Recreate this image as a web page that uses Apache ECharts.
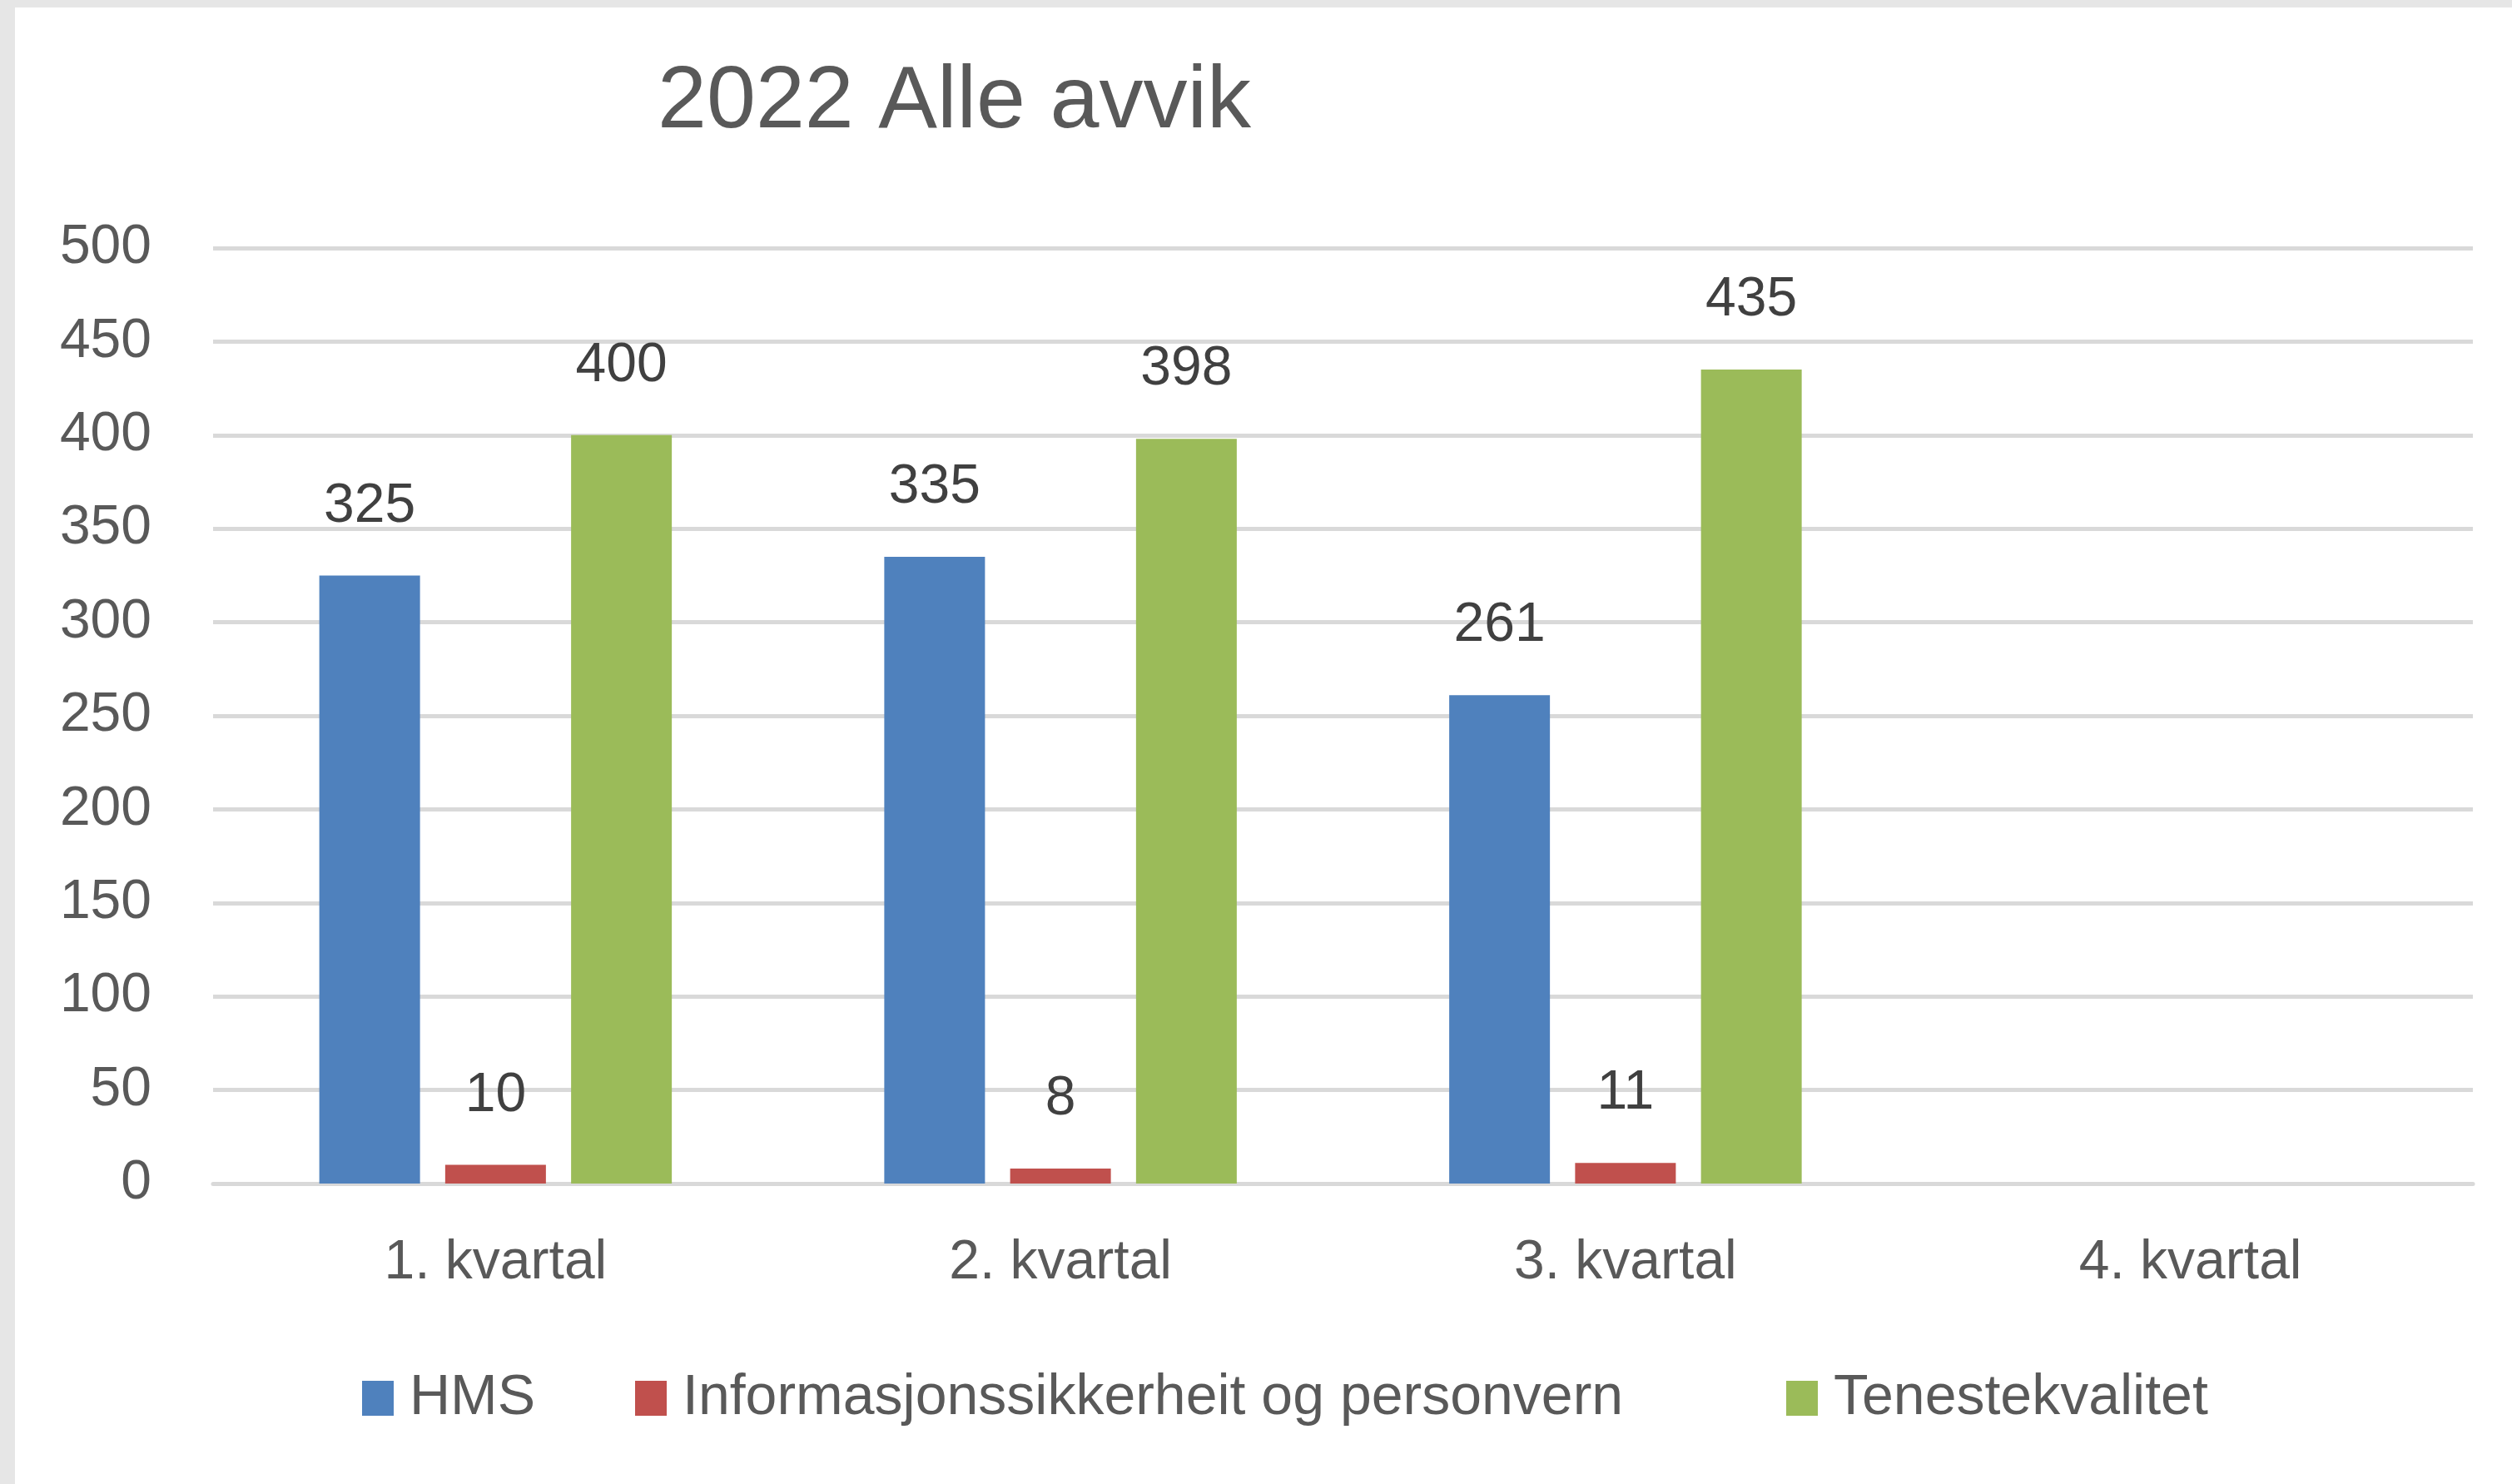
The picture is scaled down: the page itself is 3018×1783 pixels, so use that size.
<!DOCTYPE html>
<html>
<head>
<meta charset="utf-8">
<title>2022 Alle avvik</title>
<script src="https://cdn.jsdelivr.net/npm/echarts@6/dist/echarts.min.js"></script>
<style>
    html, body { margin: 0; padding: 0; background: #e6e6e6; }
    #chart { position: absolute; left: 18px; top: 9px; width: 3000px; height: 1774px; background: #ffffff; }
</style>
</head>
<body>
<div id="chart"></div>
<script>
    // kategoriar og tal
    var categories = ['1. kvartal', '2. kvartal', '3. kvartal', '4. kvartal']
    var hms = [325, 335, 261, '-']
    var infoSikkerheit = [10, 8, 11, '-']
    var tenestekvalitet = [400, 398, 435, '-']
    var seriesNames = ['HMS', 'Informasjonssikkerheit og personvern', 'Tenestekvalitet']
    var yTicks = [0, 50, 100, 150, 200, 250, 300, 350, 400, 450, 500]

    var FONT = 'Liberation Sans'
    var TXT = '#595959'

    function barSerie (name, data) {
        return {
            name: name,
            type: 'bar',
            barWidth: 121,
            barGap: '25%',
            data: data,
            label: {
                show: true,
                position: 'top',
                distance: 50,
                fontFamily: FONT,
                fontSize: 66,
                color: '#404040'
            }
        }
    }

    function legendFor (name, left) {
        return {
            data: [name],
            left: left,
            top: 1632,
            itemWidth: 38,
            itemHeight: 42,
            icon: 'rect',
            textStyle: {
                fontFamily: FONT,
                fontSize: 68,
                color: TXT,
                padding: [0, 0, 0, 14]
            }
        }
    }

    var chart = echarts.init(document.getElementById('chart'))
    chart.setOption({
        animation: false,
        color: ['#4f81bd', '#c0504d', '#9bbb59'],
        title: {
            text: '2022 Alle avvik',
            left: 767,
            top: 57,
            textStyle: {
                fontFamily: FONT,
                fontSize: 106,
                fontWeight: 'normal',
                color: TXT
            }
        },
        legend: [
            legendFor(seriesNames[0], 412),
            legendFor(seriesNames[1], 740),
            legendFor(seriesNames[2], 2123)
        ],
        grid: {
            left: 238,
            right: 47,
            top: 289,
            height: 1124,
            containLabel: false
        },
        xAxis: {
            type: 'category',
            data: categories,
            axisTick: { show: false },
            axisLine: { show: true, lineStyle: { color: '#d9d9d9', width: 5 } },
            axisLabel: {
                margin: 63,
                fontFamily: FONT,
                fontSize: 66,
                color: TXT
            }
        },
        yAxis: {
            type: 'value',
            min: yTicks[0],
            max: yTicks[yTicks.length - 1],
            interval: yTicks[1] - yTicks[0],
            axisLine: { show: false },
            axisTick: { show: false },
            splitLine: { lineStyle: { color: '#d9d9d9', width: 5 } },
            axisLabel: {
                margin: 74,
                fontFamily: FONT,
                fontSize: 66,
                color: TXT,
                padding: [0, 0, 20, 0]
            }
        },
        series: [
            barSerie(seriesNames[0], hms),
            barSerie(seriesNames[1], infoSikkerheit),
            barSerie(seriesNames[2], tenestekvalitet)
        ]
    })
</script>
</body>
</html>
